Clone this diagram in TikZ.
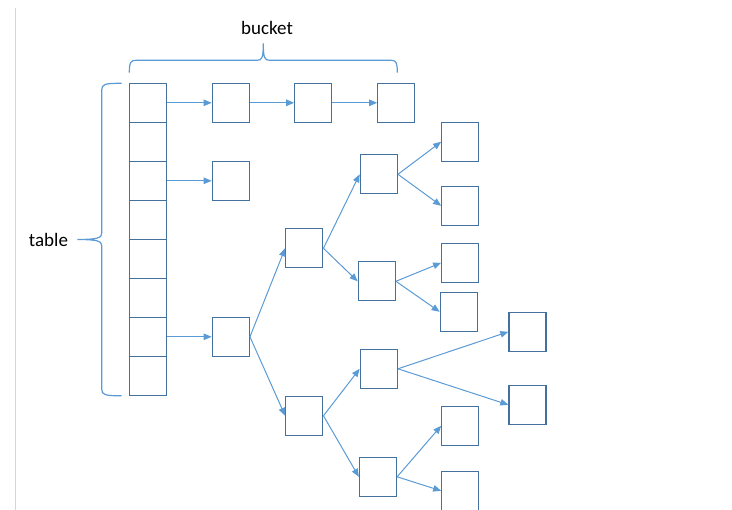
\documentclass[tikz,border=0pt]{standalone}
\usepackage{fontspec}
\setmainfont{Carlito}
\usetikzlibrary{arrows.meta,positioning}
\definecolor{boxblue}{RGB}{65,113,156}
\definecolor{linkblue}{RGB}{91,155,213}
\definecolor{pagegray}{RGB}{214,214,208}
\tikzset{
  cell/.style={draw=boxblue,line width=1.3pt,minimum width=37pt,minimum height=39pt,inner sep=0pt},
  link/.style={every edge/.style={draw,color=linkblue,line width=1pt,-{Triangle[length=8pt,width=6.5pt]}}},
  brace/.style={draw=linkblue,line width=1.2pt},
  caption/.style={font=\fontsize{19}{22}\selectfont,inner sep=0pt}
}

\begin{document}
\begin{tikzpicture}[x=1pt,y=-1pt,node distance=39pt,on grid]
   \useasboundingbox (0,0) rectangle (732,510);
   \draw[pagegray,line width=1.3pt] (15.7,8) -- (15.7,512);
   % table
   \node[cell] (t1) at (147.8,102.8) {};
   \node[cell] (t2) [below=of t1] {};
   \node[cell] (t3) [below=of t2] {};
   \node[cell] (t4) [below=of t3] {};
   \node[cell] (t5) [below=of t4] {};
   \node[cell] (t6) [below=of t5] {};
   \node[cell] (t7) [below=of t6] {};
   \node[cell] (t8) [below=of t7] {};
   % buckets
   \node[cell] (c1) [right=83pt of t1] {};
   \node[cell] (c2) [right=82.5pt of c1] {};
   \node[cell] (c3) [right=83pt of c2] {};
   \node[cell] (d1) [right=83pt of t3] {};
   \node[cell] (r0) [right=83pt of t7] {};
   \node[cell] (r1) [above right=88.5pt and 73.5pt of r0] {};
   \node[cell] (r2) [below right=79pt and 73.5pt of r0] {};
   \node[cell] (r11) [above right=74pt and 74.5pt of r1] {};
   \node[cell] (r12) [below right=33pt and 72.5pt of r1] {};
   \node[cell] (r111) [above right=32.5pt and 81.5pt of r11] {};
   \node[cell] (r112) [below right=31.5pt and 81.5pt of r11] {};
   \node[cell] (r121) [above right=18.5pt and 83.5pt of r12] {};
   \node[cell] (r122) [below right=30.5pt and 82pt of r12] {};
   \node[cell] (r21) [above right=47pt and 74.5pt of r2] {};
   \node[cell] (r22) [below right=61pt and 73.7pt of r2] {};
   \node[cell] (r211) [above right=37pt and 148.7pt of r21] {};
   \node[cell] (r212) [below right=36pt and 148.7pt of r21] {};
   \node[cell] (r221) [above right=51pt and 82.3pt of r22] {};
   \node[cell] (r222) [below right=14pt and 82.3pt of r22] {};
   \path[link]
    (t1.east) edge (c1.west)
    (c1.east) edge (c2.west)
    (c2.east) edge (c3.west)
    (t3.east) edge (d1.west)
    (t7.east) edge (r0.west)
    (r0.east) edge (r1.west)
              edge (r2.west)
    (r1.east) edge (r11.west)
              edge (r12.west)
    (r11.east) edge (r111.west)
               edge (r112.west)
    (r12.east) edge (r121.west)
               edge (r122.west)
    (r2.east) edge (r21.west)
              edge (r22.west)
    (r21.east) edge (r211.west)
               edge (r212.west)
    (r22.east) edge (r221.west)
               edge (r222.west);
   % braces
   \draw[brace] (129.3,72.7) .. controls (129.3,62) and (131,60.3) .. (136,60.3) -- (257,60.3)
     .. controls (262,60.3) and (263.3,58) .. (263.3,43.3)
     .. controls (263.3,58) and (264.6,60.3) .. (269.6,60.3) -- (391,60.3)
     .. controls (396,60.3) and (397.3,62) .. (397.3,72.7);
   \draw[brace] (121.7,83.3) .. controls (105,83.3) and (101.7,84) .. (101.7,90) -- (101.7,233)
     .. controls (101.7,237.5) and (99,239.5) .. (77.3,239.5)
     .. controls (99,239.5) and (101.7,241.5) .. (101.7,246) -- (101.7,389)
     .. controls (101.7,395) and (105,395.8) .. (121.7,395.8);
   \node[caption] (bucket) at (267,28) {bucket};
   \node[caption] (table) at (48.5,239.5) {table};
\end{tikzpicture}
\end{document}
